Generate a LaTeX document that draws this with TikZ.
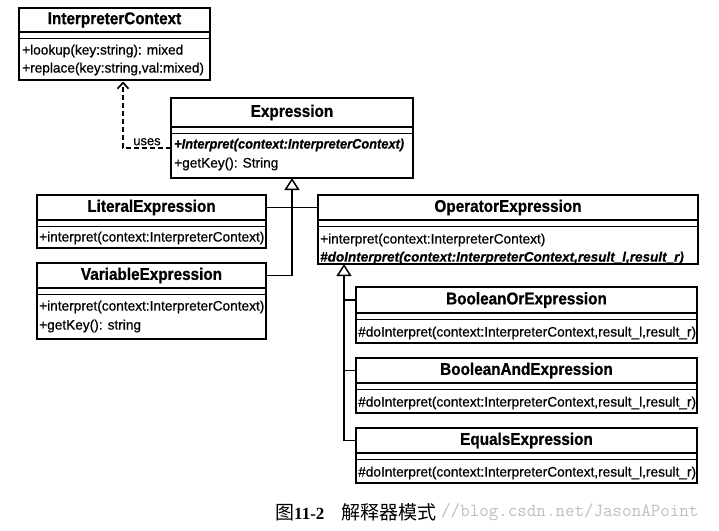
\documentclass[tikz,border=0pt]{standalone}
\usepackage{fontspec}
\setmainfont{Liberation Sans}
\newfontfamily\titlefont[FakeStretch=0.9,FakeBold=0.8]{Liberation Sans}
\newfontfamily\methfont[FakeStretch=0.99,FakeBold=0.6]{Liberation Sans}
\newfontfamily\absfont[FakeStretch=0.98,FakeBold=0.4]{Liberation Sans}
\newfontfamily\absfontnarrow[FakeStretch=0.93,FakeBold=0.4]{Liberation Sans}
\newfontfamily\cjk{Noto Sans CJK SC}
\newfontfamily\capserif{Liberation Serif}
\usetikzlibrary{arrows.meta,fit}
\tikzset{
  cls/.style={draw, line width=1.4pt, inner sep=0pt, outer sep=0pt},
  ttl/.style={font=\titlefont\bfseries\fontsize{17}{20}\selectfont, inner sep=0pt},
  meth/.style={font=\methfont\fontsize{13.8}{16}\selectfont, anchor=west, inner sep=0pt},
  absmeth/.style={font=\absfont\bfseries\itshape\fontsize{13.8}{16}\selectfont, anchor=west, inner sep=0pt},
  absmethnarrow/.style={absmeth, font=\absfontnarrow\bfseries\itshape\fontsize{13.8}{16}\selectfont},
  sepline/.style={line width=1.3pt},
  gen/.style={line width=1.6pt, -{Triangle[open,length=12pt,width=15pt,line width=1.5pt]}},
  link/.style={line width=1.6pt},
  dep/.style={line width=1.4pt, dash pattern=on 5pt off 3pt, shorten >=1.5pt,
    -{Straight Barb[length=6pt,width=11pt,line width=1.6pt]}},
}
\newcommand\umlclass[7]{%
  \node[cls, fit={(#2,#3) (#4,#5)}] (#1) {};
  \draw[sepline] (#2,#6) -- (#4,#6);
  \draw[sepline] (#2,#6+6.5) -- (#4,#6+6.5);
  \node[ttl] (#1T) at ({(#2+#4)/2},{(#3+#6)/2}) {#7};
}
\begin{document}
\begin{tikzpicture}[x=1pt,y=-1pt]
\fill[white] (0,0) rectangle (719,530);
\useasboundingbox (0,0) rectangle (719,530);

% classes
\umlclass{ic}{19}{8}{210}{80}{32}{InterpreterContext}
\node[meth] (ic1) at (22,51) {+lookup(key:string): mixed};
\node[meth] (ic2) at (22,69) {+replace(key:string,val:mixed)};

\umlclass{expr}{171}{98}{413}{178}{127}{Expression}
\node[absmethnarrow] (ex1) at (174,145) {+Interpret(context:InterpreterContext)};
\node[meth] (ex2) at (174,164) {+getKey(): String};

\umlclass{lit}{37}{195}{266}{248}{220}{LiteralExpression}
\node[meth] (lit1) at (39,238) {+interpret(context:InterpreterContext)};

\umlclass{var}{37}{263}{266}{339}{288}{VariableExpression}
\node[meth] (var1) at (39,307) {+interpret(context:InterpreterContext)};
\node[meth] (var2) at (39,326) {+getKey(): string};

\umlclass{op}{318}{195}{698}{264}{220}{OperatorExpression}
\node[meth] (op1) at (320,240) {+interpret(context:InterpreterContext)};
\node[absmeth] (op2) at (320,258) {\#doInterpret(context:InterpreterContext,result\_l,result\_r)};

\umlclass{or}{356}{287}{697}{343}{313}{BooleanOrExpression}
\node[meth] (or1) at (358,333) {\#doInterpret(context:InterpreterContext,result\_l,result\_r)};

\umlclass{and}{356}{358}{697}{413}{383}{BooleanAndExpression}
\node[meth] (and1) at (358,403) {\#doInterpret(context:InterpreterContext,result\_l,result\_r)};

\umlclass{eq}{356}{428}{697}{483}{453}{EqualsExpression}
\node[meth] (eq1) at (358,473) {\#doInterpret(context:InterpreterContext,result\_l,result\_r)};

% uses dependency
\coordinate (usesc) at (123,148);
\draw[dep] (expr.west |- usesc) -| node[pos=0.25, above=2pt, meth, anchor=south, font=\methfont\fontsize{13}{14}\selectfont] {uses} (usesc |- ic.south);

% generalization to Expression
\draw[link] (lit.east |- litT) -- (op.west |- litT);
\draw[gen] (var.east |- varT) -| (expr.south);

% generalization to OperatorExpression
\coordinate (oj) at (344,264);
\draw[link] (oj |- orT) -- (or.west |- orT);
\draw[link] (oj |- andT) -- (and.west |- andT);
\draw[gen] (eq.west |- eqT) -| (oj);

% caption
\node[anchor=west, inner sep=0pt, font=\cjk\fontsize{19}{22}\selectfont] (cap) at (275,512)
  {图{\capserif\bfseries\fontsize{17}{20}\selectfont 11-2}\hspace{17pt}解释器模式};
\node[anchor=west, inner sep=0pt, text=black!25, font=\ttfamily\fontsize{18.5}{20}\selectfont] (wm) at (441,512) {//blog.csdn.net/JasonAPoint};
\end{tikzpicture}
\end{document}
